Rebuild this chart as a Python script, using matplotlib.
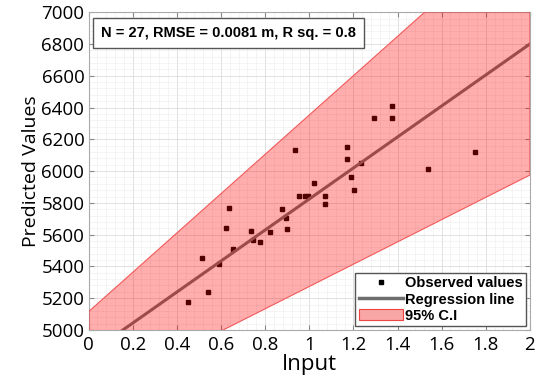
import numpy as np
import matplotlib.pyplot as plt
from matplotlib.lines import Line2D
from matplotlib.patches import Patch
from matplotlib.ticker import MultipleLocator

# observed points
obs_x = [0.452, 0.512, 0.542, 0.592, 0.625, 0.636, 0.655, 0.737, 0.744, 0.779,
         0.824, 0.876, 0.894, 0.900, 0.934, 0.954, 0.980, 0.993, 1.020, 1.070,
         1.070, 1.170, 1.171, 1.191, 1.205, 1.236, 1.292, 1.373, 1.373, 1.536, 1.753]
obs_y = [5178, 5451, 5239, 5413, 5641, 5765, 5509, 5623, 5564, 5552,
         5616, 5759, 5703, 5637, 6130, 5841, 5841, 5841, 5923, 5841,
         5794, 6074, 6151, 5960, 5882, 6052, 6331, 6335, 6407, 6011, 6119]

# regression line and 95% band end points
line_x = [0, 2]
line_y = [4848, 6800]
ci_x = [0, 2]
ci_upper = [5115, 7590]
ci_lower = [4572, 5975]

stats_text = "N = 27, RMSE = 0.0081 m, R sq. = 0.8"

fig = plt.figure(figsize=(5.38, 3.80), dpi=100)
ax = fig.add_axes([0.1645, 0.1316, 0.8205, 0.8364])

ax.plot(obs_x, obs_y, 's', color='black', markersize=3.2, zorder=3)
ax.plot(line_x, line_y, color='#6e6e6e', lw=2.2, zorder=3)
ax.fill_between(ci_x, ci_lower, ci_upper, facecolor=(1, 0, 0, 0.32),
                edgecolor=(0.95, 0.35, 0.35), lw=0.8, zorder=4)

ax.set_xlim(0, 2)
ax.set_ylim(5000, 7000)
ax.xaxis.set_minor_locator(MultipleLocator(0.04))
ax.yaxis.set_major_locator(MultipleLocator(200))
ax.yaxis.set_minor_locator(MultipleLocator(40))
ax.set_xticks(np.arange(0, 2.01, 0.2))
ax.set_xticklabels(['0', '0.2', '0.4', '0.6', '0.8', '1', '1.2', '1.4', '1.6', '1.8', '2'])
ax.grid(which='major', color='#dcdcdc', lw=0.6, zorder=0)
ax.grid(which='minor', color='#ececec', lw=0.4, zorder=0)
ax.set_axisbelow(True)
ax.tick_params(which='both', direction='in', top=True, right=True, labelsize=13.5,
               color='#888888')
ax.tick_params(axis='x', pad=4)
ax.tick_params(axis='y', pad=3)
ax.tick_params(which='minor', length=0)
for s in ax.spines.values():
    s.set_color('#aaaaaa')

fnt = ['Open Sans', 'DejaVu Sans']
for lab in ax.get_xticklabels() + ax.get_yticklabels():
    lab.set_family(fnt)
ax.set_xlabel('Input', fontsize=16, family=fnt, labelpad=0)
ax.set_ylabel('Predicted Values', fontsize=14, family=fnt, labelpad=1)

ax.text(0.028, 0.957, stats_text, transform=ax.transAxes, ha='left', va='top',
        fontsize=10.5, fontweight='bold', family='Liberation Sans', zorder=6,
        bbox=dict(boxstyle='square,pad=0.55', fc='white', ec='#555555', lw=1))

handles = [Line2D([], [], marker='s', ls='none', color='black', markersize=3.5),
           Line2D([], [], color='#6e6e6e', lw=2.5),
           Patch(facecolor='#f9a6a6', edgecolor='#ee4444', lw=0.8)]
leg = ax.legend(handles, ['Observed values', 'Regression line', '95% C.I'],
                loc='lower right', frameon=True, fancybox=False, framealpha=1,
                edgecolor='#555555', borderaxespad=0.25, handlelength=3.0,
                handletextpad=0.15, labelspacing=0.15, borderpad=0.25,
                prop={'family': 'Liberation Sans', 'weight': 'bold', 'size': 10.5})
leg.set_zorder(7)

fig.savefig('out.png', dpi=100)
